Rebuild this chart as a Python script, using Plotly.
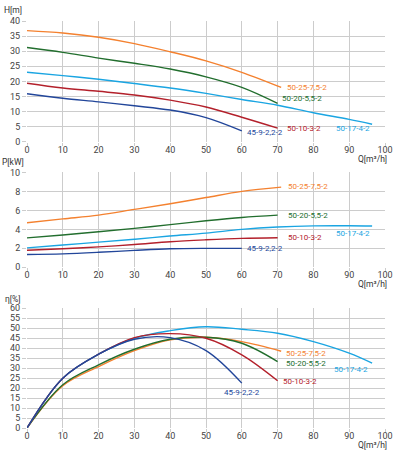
import plotly.graph_objects as go
from plotly.subplots import make_subplots

# pump names and curves
pumps = ["50-25-7,5-2", "50-20-5,5-2", "50-17-4-2", "50-10-3-2", "45-9-2,2-2"]
colors = ["#f4812f", "#226e2e", "#1aa5e2", "#b3202b", "#22469a"]

q_2575 = [0, 10, 20, 30, 40, 50, 60, 71]
q_2055 = [0, 10, 20, 30, 40, 50, 60, 70]
q_174 = [0, 10, 20, 30, 40, 50, 60, 70, 80, 90, 96.4]
q_103 = [0, 10, 20, 30, 40, 50, 60, 70]
q_922 = [0, 10, 20, 30, 40, 50, 60]

h_2575 = [36.8, 36.0, 34.6, 32.5, 29.8, 26.8, 23.0, 18.0]
h_2055 = [31.2, 29.6, 27.7, 26.0, 24.1, 21.5, 18.0, 12.7]
h_174 = [23.0, 21.9, 20.7, 19.3, 17.8, 16.0, 14.0, 12.1, 9.6, 7.4, 5.8]
h_103 = [19.4, 17.8, 16.7, 15.5, 13.8, 11.5, 8.1, 4.5]
h_922 = [15.9, 14.4, 13.2, 11.9, 10.5, 8.0, 3.6]

p_2575 = [4.7, 5.1, 5.5, 6.1, 6.7, 7.35, 8.0, 8.45]
p_2055 = [3.1, 3.4, 3.75, 4.1, 4.5, 4.9, 5.25, 5.5]
p_174 = [2.05, 2.35, 2.65, 2.95, 3.3, 3.6, 4.0, 4.25, 4.37, 4.38, 4.35]
p_103 = [1.8, 1.95, 2.15, 2.4, 2.7, 2.9, 3.05, 3.12]
p_922 = [1.35, 1.42, 1.58, 1.78, 1.95, 2.0, 2.0]

e_2575 = [0, 21.2, 30.8, 38.8, 44.2, 45.5, 43.3, 38.5]
e_2055 = [0, 21.7, 31.7, 39.5, 44.5, 45.5, 42.5, 33.3]
e_174 = [0, 25.0, 37.0, 45.0, 48.8, 50.8, 49.5, 47.5, 43.3, 37.5, 32.5]
e_103 = [0, 25.0, 37.0, 45.3, 47.3, 45.0, 36.7, 23.7]
e_922 = [0, 25.0, 37.0, 44.5, 45.3, 38.8, 22.5]

flows = [q_2575, q_2055, q_174, q_103, q_922]
heads = [h_2575, h_2055, h_174, h_103, h_922]
powers = [p_2575, p_2055, p_174, p_103, p_922]
effs = [e_2575, e_2055, e_174, e_103, e_922]

# label offsets (pixels from curve end): xshift, yshift, xanchor
label_pos = {
    1: [(4, 0, "left"), (2, 5, "left"), (0, -4, "right"), (7, 0, "left"), (3, -2, "left")],
    2: [(5, 1, "left"), (8, 0, "left"), (0, -7, "right"), (8, 0, "left"), (3, 0, "left")],
    3: [(3, -2, "left"), (6, -2, "left"), (-2, -6, "right"), (3, -1, "left"), (0, -9, "center")],
}

fig = make_subplots(rows=3, cols=1)

for row, values in zip([1, 2, 3], [heads, powers, effs]):
    for i, name in enumerate(pumps):
        fig.add_trace(go.Scatter(x=flows[i], y=values[i], mode="lines", name=name,
                                 line=dict(color=colors[i], width=1.4, shape="spline"),
                                 showlegend=False), row=row, col=1)
        dx, dy, anchor = label_pos[row][i]
        fig.add_annotation(x=flows[i][-1], y=values[i][-1], text=name, showarrow=False,
                           xref=f"x{row}" if row > 1 else "x", yref=f"y{row}" if row > 1 else "y",
                           xanchor=anchor, yanchor="middle", xshift=dx, yshift=dy,
                           font=dict(size=8, color=colors[i]))

grid = "#cccccc"
tickfont = dict(size=9, color="#444444")
fig.update_xaxes(range=[0, 100], dtick=10, showgrid=True, gridcolor=grid, gridwidth=1,
                 zeroline=False, showline=False, ticks="outside", ticklen=3, tickcolor=grid,
                 tickfont=tickfont, automargin=False, ticklabelstandoff=-4)
fig.update_yaxes(showgrid=True, gridcolor=grid, gridwidth=1, zeroline=False, showline=False,
                 ticks="outside", ticklen=4, tickcolor=grid, tickfont=tickfont, automargin=False)
fig.update_yaxes(range=[0, 40], dtick=5, domain=[0.7034, 1.0], row=1, col=1)
fig.update_yaxes(range=[0, 10], dtick=2, domain=[0.3948, 0.628], row=2, col=1)
fig.update_yaxes(range=[0, 60], dtick=5, domain=[0.0, 0.294], row=3, col=1)

# axis titles
titles = [("H[m]", 1.09, "y domain"), ("P[kW]", 1.11, "y2 domain"), ("η[%]", 1.08, "y3 domain")]
for text, ypos, ref in titles:
    fig.add_annotation(x=-0.04, y=ypos, xref="paper", yref=ref, text=text, showarrow=False,
                       xanchor="center", yanchor="middle", font=dict(size=8.5, color="#333333"))
for ypos, ref in [(-0.145, "y domain"), (-0.175, "y2 domain"), (-0.14, "y3 domain")]:
    fig.add_annotation(x=1.012, y=ypos, xref="paper", yref=ref, text="Q[m³/h]", showarrow=False,
                       xanchor="right", yanchor="middle", font=dict(size=8.5, color="#333333"))

fig.update_layout(width=400, height=456, margin=dict(l=27, r=15, t=21, b=28),
                  plot_bgcolor="white", paper_bgcolor="white",
                  font=dict(family="Roboto, sans-serif"))

# drop the default body margin so the figure sits at the page corner
fig.write_html("out.html", config={"displayModeBar": False},
               post_script="document.body.style.margin = '0';")
